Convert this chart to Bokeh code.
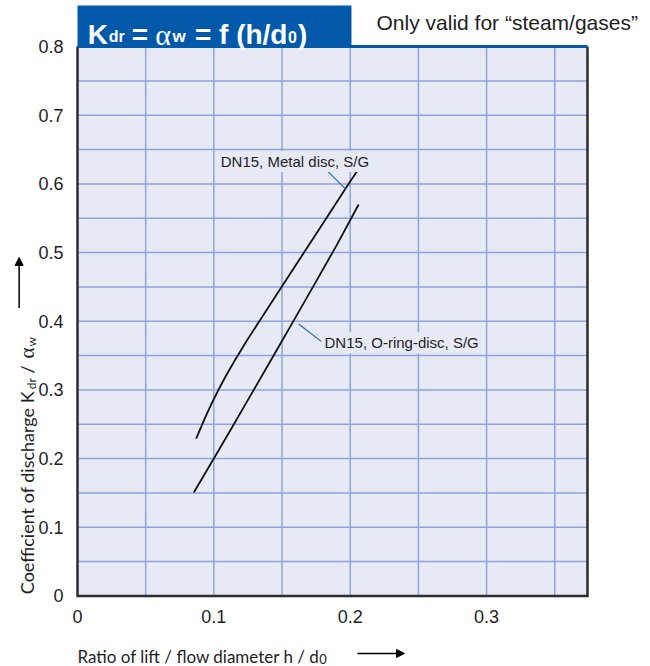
import math
import numpy as np
from bokeh.plotting import figure
from bokeh.models import (Range1d, SingleIntervalTicker, CustomJSTickFormatter, Label,
                          BoxAnnotation, Arrow, NormalHead, LinearAxis)
from bokeh.embed import file_html
from bokeh.resources import INLINE

# ---- data ----
metal_x = [0.087, 0.090, 0.094, 0.098, 0.103, 0.109, 0.116, 0.124, 0.133, 0.150, 0.166, 0.182, 0.199, 0.206]
metal_y = [0.229, 0.243, 0.2615, 0.2787, 0.2987, 0.3209, 0.3451, 0.3711, 0.399, 0.4509, 0.4997, 0.5485, 0.6004, 0.6214]

oring_x = [0.0853, 0.100, 0.115, 0.130, 0.145, 0.160, 0.175, 0.190, 0.2062]
oring_y = [0.1505, 0.200, 0.251, 0.3025, 0.354, 0.406, 0.458, 0.5105, 0.570]

metal_label = "DN15, Metal disc, S/G"
oring_label = "DN15, O-ring-disc, S/G"
metal_leader = ([0.1818, 0.1970], [0.6218, 0.5917])
oring_leader = ([0.1622, 0.1787], [0.3960, 0.3707])
metal_label_pos = (0.1036, 0.6326)
oring_label_pos = (0.1797, 0.3687)

x_max, y_max = 0.374, 0.8
x_tick_step, y_tick_step, grid_step = 0.1, 0.1, 0.05

# ---- layout constants (pixels) ----
W, H = 650, 666
PXX, PXY = 1363.6, 686.7          # pixels per data unit
OX, OY = 77.0, 595.4              # canvas position of the data origin

BG = "#E7E9F5"
GRID = "#8DA5DA"
BLUE = "#0259A9"
TXT = "#1e1e1e"
LEAD = "#1565b8"

x0, x1 = -OX / PXX, (W - OX) / PXX
y0, y1 = -(H - OY) / PXY, OY / PXY

p = figure(width=W, height=H, output_backend="svg", toolbar_location=None,
           x_range=Range1d(x0, x1), y_range=Range1d(y0, y1),
           x_axis_location=None, y_axis_location=None,
           min_border=0, min_border_left=0, min_border_right=0,
           min_border_top=0, min_border_bottom=0)
p.background_fill_color = "white"
p.border_fill_color = "white"
p.outline_line_color = None
p.grid.visible = False

# plot area background
p.add_layout(BoxAnnotation(left=0, right=x_max, bottom=0, top=y_max,
                           fill_color=BG, fill_alpha=1.0, line_color=None, level="underlay"))

# grid lines (every grid_step)
gx = [round(v, 4) for v in np.arange(grid_step, x_max, grid_step)]
gy = [round(v, 4) for v in np.arange(grid_step, y_max, grid_step)]
p.segment(x0=gx, y0=[0] * len(gx), x1=gx, y1=[y_max] * len(gx), line_color=GRID, line_width=1.5)
p.segment(x0=[0] * len(gy), y0=gy, x1=[x_max] * len(gy), y1=gy, line_color=GRID, line_width=1.5)

# axes fixed at the origin
fmt = CustomJSTickFormatter(code="return Math.abs(tick) < 1e-9 ? '0' : tick.toFixed(1);")
xax = LinearAxis(fixed_location=0, bounds=(0, x_max),
                 ticker=SingleIntervalTicker(interval=x_tick_step, num_minor_ticks=0), formatter=fmt)
yax = LinearAxis(fixed_location=0, bounds=(0, y_max),
                 ticker=SingleIntervalTicker(interval=y_tick_step, num_minor_ticks=0), formatter=fmt)
for ax in (xax, yax):
    ax.axis_line_color = None
    ax.major_tick_line_color = None
    ax.minor_tick_line_color = None
    ax.major_tick_out = 0
    ax.major_tick_in = 0
    ax.minor_tick_out = 0
    ax.minor_tick_in = 0
    ax.major_label_text_font = "Liberation Sans"
    ax.major_label_text_font_size = "18px"
    ax.major_label_text_color = TXT
xax.major_label_standoff = 14
yax.major_label_standoff = 14
p.add_layout(xax, "below")
p.add_layout(yax, "left")

# curves
p.line(metal_x, metal_y, line_color="#111111", line_width=1.8)
p.line(oring_x, oring_y, line_color="#111111", line_width=1.8)

# leader lines
p.line(metal_leader[0], metal_leader[1], line_color=LEAD, line_width=1.1)
p.line(oring_leader[0], oring_leader[1], line_color=LEAD, line_width=1.1)

# frame: dark left/bottom/right, blue top
p.line([0, 0, x_max, x_max], [y_max, 0, 0, y_max], line_color="#2d2d2d", line_width=2.5, line_join="miter")
p.line([0, x_max], [y_max, y_max], line_color=BLUE, line_width=3)

# curve labels
for txt, (lx, ly) in ((metal_label, metal_label_pos), (oring_label, oring_label_pos)):
    p.add_layout(Label(x=lx, y=ly, text=txt, text_font="Liberation Sans", text_font_size="15px",
                       text_color=TXT, text_baseline="alphabetic", text_align="left",
                       background_fill_color=BG, background_fill_alpha=1.0, padding=2))

# title box
p.add_layout(BoxAnnotation(left=0, right=0.2009, bottom=y_max, top=0.8598,
                           fill_color=BLUE, fill_alpha=1.0, line_color=None, level="annotation"))

def lab(x, y, text, size, font="Liberation Sans", style="bold", color="white", angle=0.0,
        baseline="alphabetic", align="left"):
    p.add_layout(Label(x=x, y=y, text=text, text_font=font, text_font_size=size,
                       text_font_style=style, text_color=color, angle=angle,
                       text_baseline=baseline, text_align=align, level="overlay"))

mb, sb = 0.8171, 0.8145
lab(0.00755, mb, "K", "28px")
lab(0.02295, sb, "dr", "16px")
lab(0.0398, mb, "=", "28px")
lab(0.0570, mb, "\u03b1", "30px", font="Liberation Serif", style="normal")
lab(0.0697, sb, "w", "17px")
lab(0.0861, mb, "= f (h/d", "28px")
lab(0.1544, sb, "0", "16px")
lab(0.1617, mb, ")", "28px")

lab(0.2193, 0.835, "Only valid for \u201csteam/gases\u201d", "21px", style="normal", color=TXT, baseline="middle")

# x axis label
lab(0.0, -0.0882, "Ratio of lift / flow diameter h / d", "17px", font="Lato", style="normal", color=TXT)
lab(0.1772, -0.0915, "0", "13px", font="Lato", style="normal", color=TXT)
p.add_layout(Arrow(x_start=0.2053, y_start=-0.0838, x_end=0.2398, y_end=-0.0838,
                   line_color="black", line_width=1.5,
                   end=NormalHead(size=8, fill_color="black", line_color="black")))

# y axis label (rotated)
a = math.pi / 2
lab(-0.0367, 0.0025, "Coefficient of discharge K", "18px", font="Lato", style="normal", color=TXT, angle=a)
lab(-0.0341, 0.3011, "dr", "12px", font="Lato", style="normal", color=TXT, angle=a)
lab(-0.0367, 0.3239, "/", "18px", font="Lato", style="normal", color=TXT, angle=a)
lab(-0.0367, 0.3457, "\u03b1", "21px", font="Liberation Serif", style="normal", color=TXT, angle=a)
lab(-0.0341, 0.3632, "w", "12px", font="Lato", style="normal", color=TXT, angle=a)
p.add_layout(Arrow(x_start=-0.0428, y_start=0.4191, x_end=-0.0428, y_end=0.4928,
                   line_color="black", line_width=1.5,
                   end=NormalHead(size=8, fill_color="black", line_color="black")))

open("out.html", "w").write(file_html(p, INLINE))
